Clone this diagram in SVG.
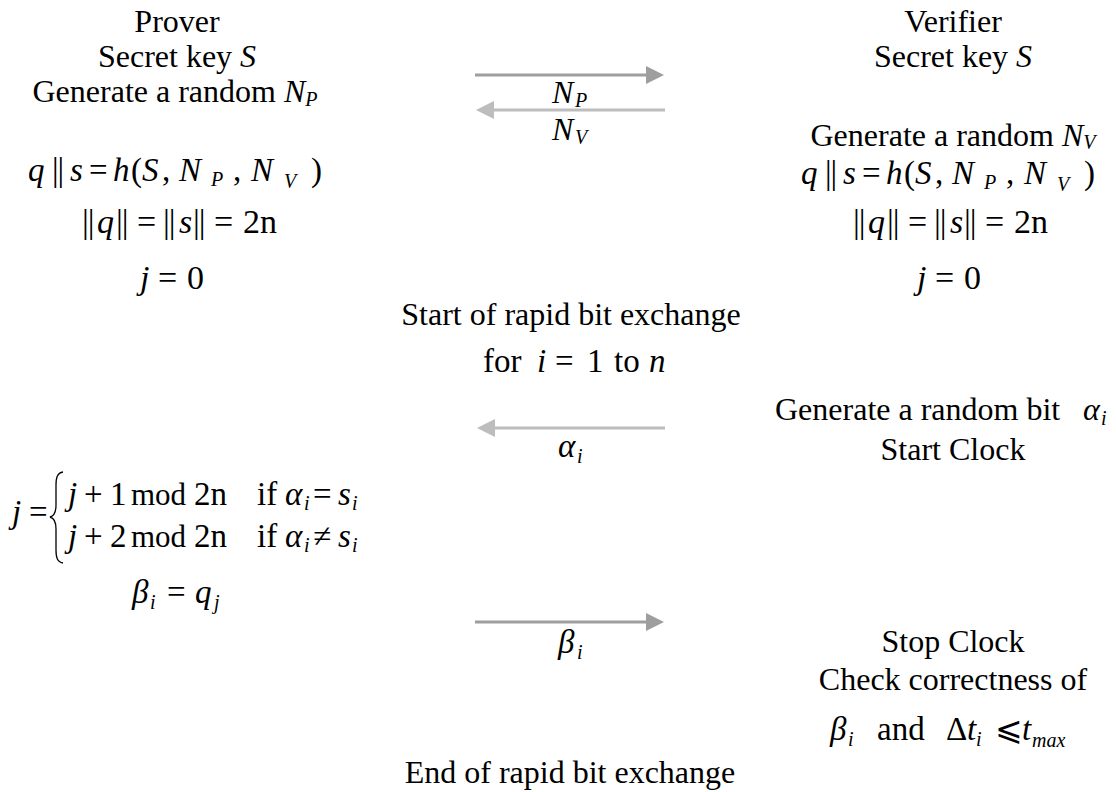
<svg xmlns="http://www.w3.org/2000/svg" width="1116" height="792" viewBox="0 0 1116 792">
<defs>
<style>
text { font-family: "Liberation Serif", "Times New Roman", "DejaVu Serif", serif; fill: #000; }
.t { font-size: 32px; }
.m { font-size: 31px; }
.f { font-size: 33px; }
.g { font-size: 34px; }
.i { font-style: italic; }
.sub { font-size: 20px; font-style: italic; }
.bar { letter-spacing: -1px; }
.dark { stroke: #9e9e9e; stroke-width: 3; fill: none; }
.light { stroke: #bdbdbd; stroke-width: 3; fill: none; }
</style>
<marker id="hd" viewBox="0 0 18 18" refX="0" refY="9" markerWidth="18" markerHeight="18" markerUnits="userSpaceOnUse" orient="auto">
<path d="M0,0 L18,9 L0,18 z" fill="#9e9e9e"/>
</marker>
<marker id="hl" viewBox="0 0 18 18" refX="0" refY="9" markerWidth="18" markerHeight="18" markerUnits="userSpaceOnUse" orient="auto">
<path d="M0,0 L18,9 L0,18 z" fill="#bdbdbd"/>
</marker>
</defs>
<rect width="1116" height="792" fill="#fff"/>

<g id="prover">
<text class="t" x="177" y="32" text-anchor="middle">Prover</text>
<text class="t" x="177" y="67" text-anchor="middle">Secret key <tspan class="i">S</tspan></text>
<text class="t" x="175" y="102" text-anchor="middle">Generate a random <tspan class="i">N</tspan><tspan class="sub" font-size="21" dy="4">P</tspan></text>
<text class="f" y="181"><tspan x="28" class="i">q</tspan><tspan x="52" class="bar">||</tspan><tspan x="70" class="i">s</tspan><tspan x="89">=</tspan><tspan x="113" class="i">h</tspan><tspan x="131">(</tspan><tspan x="142" class="i">S</tspan><tspan x="162">,</tspan><tspan x="179" class="i">N</tspan><tspan x="211" class="sub" font-size="21" dy="5">P</tspan><tspan x="233" dy="-5">,</tspan><tspan x="251" class="i">N</tspan><tspan x="284" class="sub" font-size="21" dy="7">V</tspan><tspan x="311" dy="-7">)</tspan></text>
<text class="g" y="233"><tspan x="82" class="bar">||</tspan><tspan x="97" class="i">q</tspan><tspan x="116" class="bar">||</tspan><tspan x="137">=</tspan><tspan x="163" class="bar">||</tspan><tspan x="179" class="i">s</tspan><tspan x="193" class="bar">||</tspan><tspan x="214">=</tspan><tspan x="243">2n</tspan></text>
<text class="g" y="289"><tspan x="140" class="i">j</tspan><tspan x="158">=</tspan><tspan x="187">0</tspan></text>
</g>

<g id="prover-update">
<text class="f" y="523"><tspan x="12" class="i">j</tspan><tspan x="29">=</tspan></text>
<path d="M63,472 C57,473 56,478 56,485 L56,505 C56,512 54,516 50,517 C54,518 56,522 56,529 L56,550 C56,557 57,562 63,563" fill="none" stroke="#000" stroke-width="1.3"/>
<text class="f" y="505"><tspan x="68" class="i">j</tspan><tspan x="84">+</tspan><tspan x="110">1</tspan><tspan x="131" font-size="31">mod</tspan><tspan x="194">2n</tspan><tspan x="257">if</tspan><tspan x="285" class="i">α</tspan><tspan x="304" class="sub" font-size="18" dy="5">i</tspan><tspan x="313" dy="-5">=</tspan><tspan x="338" class="i">s</tspan><tspan x="352" class="sub" font-size="18" dy="5">i</tspan></text>
<text class="f" y="547"><tspan x="68" class="i">j</tspan><tspan x="84">+</tspan><tspan x="110">2</tspan><tspan x="131" font-size="31">mod</tspan><tspan x="194">2n</tspan><tspan x="257">if</tspan><tspan x="285" class="i">α</tspan><tspan x="304" class="sub" font-size="18" dy="5">i</tspan><tspan x="313" dy="-5">≠</tspan><tspan x="338" class="i">s</tspan><tspan x="352" class="sub" font-size="18" dy="5">i</tspan></text>
<text class="f" y="603"><tspan x="132" class="i">β</tspan><tspan x="150" class="sub" font-size="18" dy="6">i</tspan><tspan x="167" dy="-6">=</tspan><tspan x="195" class="i">q</tspan><tspan x="214" class="sub" font-size="18" dy="6">j</tspan></text>
</g>

<g id="verifier">
<text class="t" x="953" y="32" text-anchor="middle">Verifier</text>
<text class="t" x="953" y="67" text-anchor="middle">Secret key <tspan class="i">S</tspan></text>
<text class="t" x="953" y="146" text-anchor="middle">Generate a random <tspan class="i">N</tspan><tspan class="sub" font-size="21" dy="3">V</tspan></text>
<text class="f" y="184"><tspan x="801" class="i">q</tspan><tspan x="825" class="bar">||</tspan><tspan x="843" class="i">s</tspan><tspan x="862">=</tspan><tspan x="886" class="i">h</tspan><tspan x="904">(</tspan><tspan x="915" class="i">S</tspan><tspan x="935">,</tspan><tspan x="952" class="i">N</tspan><tspan x="984" class="sub" font-size="21" dy="5">P</tspan><tspan x="1006" dy="-5">,</tspan><tspan x="1024" class="i">N</tspan><tspan x="1057" class="sub" font-size="21" dy="7">V</tspan><tspan x="1084" dy="-7">)</tspan></text>
<text class="g" y="233"><tspan x="853" class="bar">||</tspan><tspan x="868" class="i">q</tspan><tspan x="887" class="bar">||</tspan><tspan x="908">=</tspan><tspan x="934" class="bar">||</tspan><tspan x="950" class="i">s</tspan><tspan x="964" class="bar">||</tspan><tspan x="985">=</tspan><tspan x="1014">2n</tspan></text>
<text class="g" y="289"><tspan x="917" class="i">j</tspan><tspan x="935">=</tspan><tspan x="964">0</tspan></text>
</g>

<g id="verifier-challenge">
<text class="t" y="420"><tspan x="775">Generate a random bit</tspan><tspan x="1083" class="i">α</tspan><tspan x="1101" class="sub" font-size="18" dy="5">i</tspan></text>
<text class="t" x="953" y="460" text-anchor="middle">Start Clock</text>
</g>

<g id="verifier-check">
<text class="t" x="953" y="652" text-anchor="middle">Stop Clock</text>
<text class="t" x="953" y="690" text-anchor="middle">Check correctness of</text>
<text class="f" y="740"><tspan x="830" class="i">β</tspan><tspan x="848" class="sub" font-size="18" dy="6">i</tspan><tspan x="877" dy="-6">and</tspan><tspan x="946">Δ</tspan><tspan x="967" class="i">t</tspan><tspan x="976" class="sub" font-size="18" dy="6">i</tspan><tspan x="995" dy="-6">⩽</tspan><tspan x="1022" class="i">t</tspan><tspan x="1032" class="sub" font-size="17" dy="7">max</tspan></text>
</g>

<g id="loop">
<text class="t" x="571" y="325" text-anchor="middle">Start of rapid bit exchange</text>
<text class="f" y="372"><tspan x="483">for</tspan><tspan x="537" class="i">i</tspan><tspan x="555">=</tspan><tspan x="587">1</tspan><tspan x="614">to</tspan><tspan x="649" class="i">n</tspan></text>
<text class="t" x="570" y="783" text-anchor="middle">End of rapid bit exchange</text>
</g>

<g id="connectors">
<line class="dark" x1="475" y1="75" x2="646" y2="75" marker-end="url(#hd)"/>
<line class="light" x1="665" y1="110" x2="494" y2="110" marker-end="url(#hl)"/>
<line class="light" x1="665" y1="428" x2="495" y2="428" marker-end="url(#hl)"/>
<line class="dark" x1="475" y1="622" x2="646" y2="622" marker-end="url(#hd)"/>
<text class="t" y="103"><tspan x="552" class="i">N</tspan><tspan x="575" class="sub" font-size="21" dy="4">P</tspan></text>
<text class="t" y="140"><tspan x="552" class="i">N</tspan><tspan x="575" class="sub" font-size="21" dy="4">V</tspan></text>
<text class="f" y="457"><tspan x="558" class="i">α</tspan><tspan x="577" class="sub" font-size="18" dy="6">i</tspan></text>
<text class="f" y="653"><tspan x="558" class="i">β</tspan><tspan x="577" class="sub" font-size="18" dy="6">i</tspan></text>
</g>
</svg>
